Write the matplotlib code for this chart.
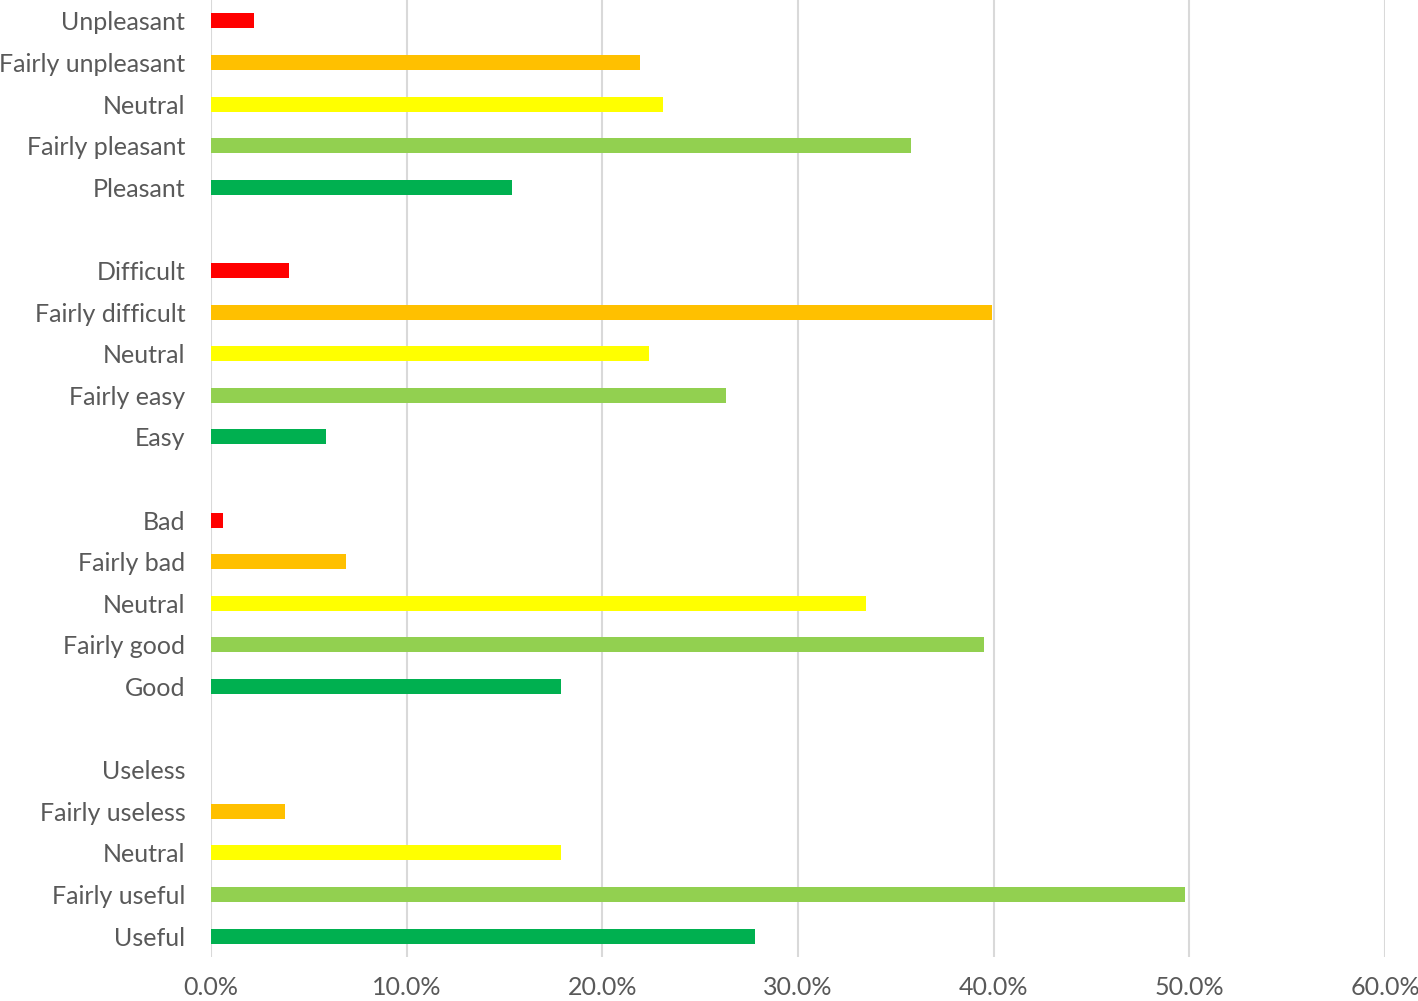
import matplotlib.pyplot as plt
from matplotlib.ticker import PercentFormatter

# ── data (top to bottom, as shown) ──
pleasant_labels = ["Unpleasant", "Fairly unpleasant", "Neutral", "Fairly pleasant", "Pleasant"]
pleasant_values = [2.2, 21.9, 23.1, 35.8, 15.4]

difficulty_labels = ["Difficult", "Fairly difficult", "Neutral", "Fairly easy", "Easy"]
difficulty_values = [4.0, 39.9, 22.4, 26.3, 5.9]

quality_labels = ["Bad", "Fairly bad", "Neutral", "Fairly good", "Good"]
quality_values = [0.6, 6.9, 33.5, 39.5, 17.9]

useful_labels = ["Useless", "Fairly useless", "Neutral", "Fairly useful", "Useful"]
useful_values = [0.0, 3.8, 17.9, 49.8, 27.8]

# same colour order in every group: worst -> best
COLORS = ["#FF0000", "#FFC000", "#FFFF00", "#92D050", "#00B050"]
TEXT = "#595959"
GRID = "#D9D9D9"

plt.rcParams["font.family"] = ["Lato", "DejaVu Sans"]

groups = [
    (pleasant_labels, pleasant_values),
    (difficulty_labels, difficulty_values),
    (quality_labels, quality_values),
    (useful_labels, useful_values),
]

# lay the groups out as category slots with an empty slot between them
labels, values, colors, positions = [], [], [], []
slot = 0
for labels_g, values_g in groups:
    for i, (lab, val) in enumerate(zip(labels_g, values_g)):
        labels.append(lab)
        values.append(val)
        colors.append(COLORS[i])
        positions.append(slot)
        slot += 1
    slot += 1
n_slots = slot - 1

fig = plt.figure(figsize=(14.18, 10.01), dpi=100)
ax = fig.add_axes([211 / 1418, 1 - 957 / 1001, (1385 - 211) / 1418, 957 / 1001])

ax.barh(positions, values, height=0.36, color=colors, zorder=3)

ax.set_ylim(n_slots - 0.5, -0.5)
ax.set_xlim(0, 60)
ax.set_xticks(range(0, 61, 10))
ax.xaxis.set_major_formatter(PercentFormatter(decimals=1))
ax.set_yticks(positions)
ax.set_yticklabels(labels)

ax.grid(axis="x", color=GRID, linewidth=1.5, zorder=0)
for side in ["top", "right", "bottom", "left"]:
    ax.spines[side].set_visible(False)
ax.tick_params(axis="both", length=0, labelsize=18, colors=TEXT)
ax.tick_params(axis="y", pad=18.5)
ax.tick_params(axis="x", pad=14)

fig.savefig("out.png", dpi=100)
